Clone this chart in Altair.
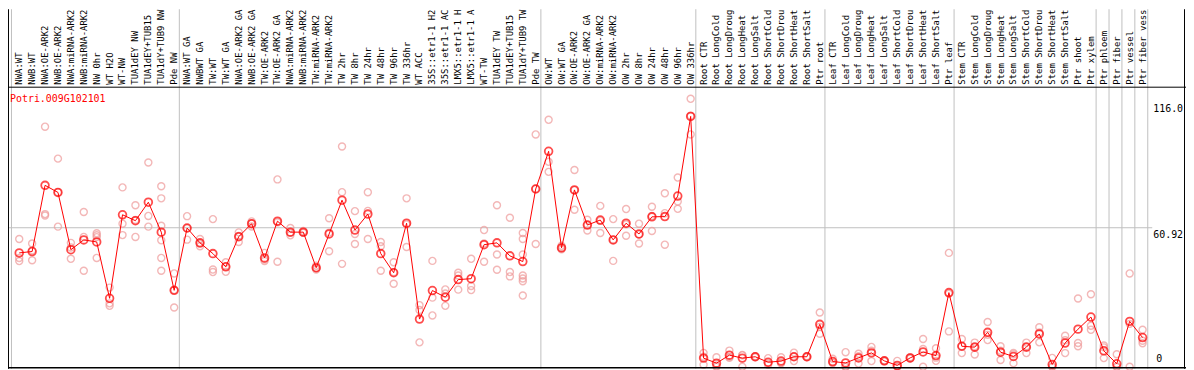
import altair as alt
import pandas as pd

gene = ["Potri.009G102101"]

labels = [
    "NWA:WT", "NWB:WT", "NWA:OE-ARK2", "NWB:OE-ARK2", "NWA:miRNA-ARK2", "NWB:miRNA-ARK2",
    "NW 0hr", "WT H2O", "WT-NW", "TUA1dEY NW", "TUA1dEY+TUB15", "TUA1dY+TUB9 NW", "Pde NW",
    "NWA:WT GA", "NWBWT GA", "TW:WT", "TW:WT GA", "NWA:OE-ARK2 GA", "NWB:OE-ARK2 GA",
    "TW:OE-ARK2", "TW:OE-ARK2 GA", "NWA:miRNA-ARK2", "NWB:miRNA-ARK2", "TW:miRNA-ARK2",
    "TW:miRNA-ARK2", "TW 2hr", "TW 8hr", "TW 24hr", "TW 48hr", "TW 96hr", "TW 336hr",
    "WT ACC", "35S::etr1-1 H2", "35S::etr1-1 AC", "LMX5::etr1-1 H", "LMX5::etr1-1 A",
    "WT-TW", "TUA1dEY TW", "TUA1dEY+TUB15", "TUA1dY+TUB9 TW", "Pde TW",
    "OW:WT", "OW:WT GA", "OW:OE-ARK2", "OW:OE-ARK2 GA", "OW:miRNA-ARK2", "OW:miRNA-ARK2",
    "OW 2hr", "OW 8hr", "OW 24hr", "OW 48hr", "OW 96hr", "OW 336hr",
    "Root CTR", "Root LongCold", "Root LongDroug", "Root LongHeat", "Root LongSalt",
    "Root ShortCold", "Root ShortDrou", "Root ShortHeat", "Root ShortSalt", "Ptr root",
    "Leaf CTR", "Leaf LongCold", "Leaf LongDroug", "Leaf LongHeat", "Leaf LongSalt",
    "Leaf ShortCold", "Leaf ShortDrou", "Leaf ShortHeat", "Leaf ShortSalt", "Ptr leaf",
    "Stem CTR", "Stem LongCold", "Stem LongDroug", "Stem LongHeat", "Stem LongSalt",
    "Stem ShortCold", "Stem ShortDrou", "Stem ShortHeat", "Stem ShortSalt", "Ptr shoot",
    "Ptr xylem", "Ptr phloem", "Ptr fiber", "Ptr vessel", "Ptr fiber vess",
]

means = [
    49.9, 50.5, 79.5, 76.4, 51.3, 55.6, 54.7, 30.0, 66.6, 64.0, 72.1, 59.0, 33.5,
    60.8, 54.3, 49.6, 43.8, 57.0, 62.7, 47.7, 63.8, 59.0, 59.0, 43.4, 58.2, 73.0,
    59.9, 66.9, 49.6, 41.2, 62.9, 20.9, 33.4, 30.5, 38.2, 38.6, 53.5, 54.3, 48.6,
    46.1, 77.9,
    94.4, 52.1, 77.5, 62.1, 64.3, 55.6, 62.9, 58.2, 65.7, 65.8, 74.8, 109.7,
    3.8, 1.6, 5.1, 3.8, 4.4, 2.0, 2.5, 4.4, 4.4, 18.6,
    2.3, 1.7, 3.9, 6.1, 2.6, 0.6, 3.9, 6.5, 4.9, 32.5,
    9.0, 8.6, 15.1, 6.4, 4.5, 8.6, 14.4, 1.0, 10.4, 16.5, 21.8,
    7.0, 1.3, 19.9, 12.8,
]

reps = [
    [56.0, 47.7, 46.3], [54.0, 51.0, 46.7], [105.2, 66.9, 66.3], [91.2, 76.5, 61.4],
    [54.3, 52.3, 47.3], [67.8, 56.9, 42.1], [58.5, 57.6, 56.8, 47.7], [34.7, 27.8, 26.7],
    [78.6, 62.7, 57.7], [70.8, 64.3, 56.9], [89.5, 66.1, 61.4],
    [79.1, 73.8, 61.8, 55.4, 47.7, 42.1], [40.9, 33.6, 26.0],
    [66.0, 60.7, 55.7], [56.0, 54.0, 52.8], [64.7, 42.6, 41.5], [45.8, 44.0, 41.6],
    [58.9, 57.3, 54.7], [63.7, 62.8, 61.5], [49.9, 47.0, 46.3], [82.1, 63.3, 46.0],
    [60.8, 58.7, 57.6], [59.5, 58.8, 58.7], [44.3, 43.2, 42.6], [65.1, 58.8, 50.6],
    [96.5, 76.5, 45.1], [68.2, 58.2, 53.8], [76.5, 68.3, 56.0], [54.7, 52.8, 42.1],
    [45.8, 41.4, 36.4], [73.8, 62.4, 52.5], [27.0, 24.9, 10.7], [46.4, 30.3, 22.5],
    [33.9, 32.1, 26.7], [41.2, 40.0, 33.8], [47.3, 35.4, 33.6], [59.9, 54.0, 46.0],
    [70.8, 49.2, 42.5], [65.3, 41.5, 39.6], [58.6, 56.0, 49.2, 40.0, 38.7, 37.5, 31.2],
    [101.8, 78.0, 53.8],
    [108.2, 89.8, 85.4], [53.0, 52.3, 51.5], [86.2, 77.4, 68.8], [64.4, 62.2, 59.7],
    [70.5, 64.0, 58.6], [64.7, 55.7, 46.4], [69.1, 62.4, 57.4], [62.7, 58.0, 54.0],
    [70.1, 66.1, 59.5], [76.0, 67.3, 53.5], [82.9, 72.4, 69.2], [117.4, 110.0, 101.8],
    [6.1, 4.4, 0.9], [4.2, 0.5, 0.0], [7.1, 4.3, 3.9], [5.2, 5.0, 0.0], [4.6, 4.4, 4.2],
    [3.8, 1.5, 0.9], [4.2, 1.7, 1.7], [6.2, 4.4, 2.5], [4.6, 4.4, 4.2], [23.8, 17.5, 14.5],
    [3.5, 1.8, 1.6], [6.4, 0.0, 0.0], [5.7, 4.6, 1.4], [8.7, 7.0, 2.5], [2.8, 2.6, 2.4],
    [2.6, 0.0, 0.0], [4.2, 3.9, 3.6], [12.2, 7.8, 0.0], [8.1, 4.0, 2.6], [49.9, 32.0, 15.5],
    [12.2, 9.0, 6.0], [10.6, 9.0, 5.4], [19.6, 14.0, 11.7], [9.0, 7.0, 3.0], [6.1, 5.5, 1.6],
    [10.6, 9.0, 6.0], [17.3, 15.0, 10.7], [3.9, 0.0, 0.0], [13.6, 11.6, 6.0],
    [29.9, 10.4, 9.0], [31.8, 18.0, 16.2],
    [9.3, 8.5, 3.8], [5.5, 0.0, 0.0], [40.9, 18.8, 0.0], [16.2, 11.4, 10.3],
]

group_ends = [-1, 12, 40, 52, 62, 72, 83, 84, 85, 86, 87]
axis_values = [116.0, 60.92, 0.0]
axis_texts = ["116.0", "60.92", "0"]

W, H = 1186, 362
FONT = "DejaVu Sans Mono"

df = pd.DataFrame({"idx": list(range(len(labels))), "label": labels, "mean": means})
rdf = pd.DataFrame([{"idx": i, "value": v} for i, vs in enumerate(reps) for v in vs])
sdf = pd.DataFrame({"pos": [g + 0.4 for g in group_ends]})
adf = pd.DataFrame({"v": axis_values, "t": axis_texts})

xs = alt.Scale(domain=[-0.869, 90.362], nice=False, zero=False)
ys = alt.Scale(domain=[-0.87, 156.66], nice=False, zero=False)

base = alt.Chart(df)

seps = alt.Chart(sdf).mark_rule(color="#c0c0c0", strokeWidth=1).encode(
    x=alt.X("pos:Q", scale=xs, axis=None), y=alt.value(0), y2=alt.value(H)
)
midline = alt.Chart(adf[adf["t"] == "60.92"]).mark_rule(color="#c0c0c0", strokeWidth=1).encode(
    y=alt.Y("v:Q", scale=ys, axis=None), x=alt.value(0), x2=alt.value(1152)
)
header_line = alt.Chart(adf.head(1)).mark_rule(color="black", strokeWidth=1).encode(
    x=alt.value(0), x2=alt.value(W), y=alt.value(78.5)
)
bottom_line = alt.Chart(adf.head(1)).mark_rule(color="black", strokeWidth=1.5).encode(
    x=alt.value(0), x2=alt.value(W), y=alt.value(361)
)
left_line = alt.Chart(adf.head(1)).mark_rule(color="black", strokeWidth=1).encode(
    x=alt.value(0.5), y=alt.value(0), y2=alt.value(H)
)
right_line = alt.Chart(adf.head(1)).mark_rule(color="black", strokeWidth=1).encode(
    x=alt.value(1184.5), y=alt.value(0), y2=alt.value(H)
)

rep_pts = alt.Chart(rdf).mark_point(
    shape="circle", filled=False, size=50, color="#ef9a9a", strokeWidth=1.4
).encode(
    x=alt.X("idx:Q", scale=xs, axis=None),
    y=alt.Y("value:Q", scale=ys, axis=None),
)
mean_line = base.mark_line(color="#ff0000", strokeWidth=1).encode(
    x=alt.X("idx:Q", scale=xs, axis=None),
    y=alt.Y("mean:Q", scale=ys, axis=None),
)
mean_pts = base.mark_point(
    shape="circle", filled=False, size=60, color="#ff0000", strokeWidth=1.8
).encode(
    x=alt.X("idx:Q", scale=xs, axis=None),
    y=alt.Y("mean:Q", scale=ys, axis=None),
)

header = base.mark_text(
    angle=270, align="left", baseline="middle", font=FONT, fontSize=9, color="black"
).encode(
    x=alt.X("idx:Q", scale=xs, axis=None), y=alt.value(76), text="label:N"
)

gene_txt = alt.Chart(pd.DataFrame({"g": gene})).mark_text(
    align="left", baseline="alphabetic", font=FONT, fontSize=10, color="#ff0000"
).encode(x=alt.value(2), y=alt.value(93), text="g:N")

ax_top = alt.Chart(adf[adf["t"] != "0"]).mark_text(
    align="left", baseline="top", dy=2, font=FONT, fontSize=10, color="black"
).encode(x=alt.value(1153), y=alt.Y("v:Q", scale=ys, axis=None), text="t:N")
ax_zero = alt.Chart(adf[adf["t"] == "0"]).mark_text(
    align="left", baseline="bottom", dy=-3, font=FONT, fontSize=10, color="black"
).encode(x=alt.value(1156), y=alt.Y("v:Q", scale=ys, axis=None), text="t:N")

chart = alt.layer(
    seps, midline, header_line, left_line, right_line,
    rep_pts, mean_line, mean_pts, header, gene_txt, ax_top, ax_zero, bottom_line,
).properties(
    width=W, height=H, padding=0, autosize=alt.AutoSizeParams(type="none"),
    background="white",
).configure_view(stroke=None)

chart.save("out.html", embed_options={"renderer": "svg", "actions": False})
